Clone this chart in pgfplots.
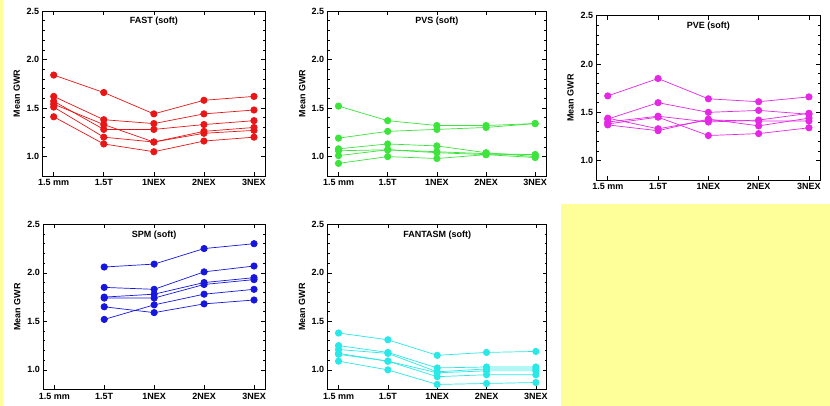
\documentclass[border=0pt]{standalone}
\usepackage{fontspec}
\setmainfont{Liberation Sans}
\usepackage{pgfplots}
\pgfplotsset{compat=1.18}
\definecolor{cR}{RGB}{232,22,22}
\definecolor{cG}{RGB}{60,228,60}
\definecolor{cM}{RGB}{228,40,228}
\definecolor{cB}{RGB}{22,22,222}
\definecolor{cC}{RGB}{40,232,232}
\definecolor{bgY}{RGB}{255,255,153}
\pgfplotsset{
  panel/.style={
    scale only axis,
    xmin=-0.22, xmax=4.22, ymin=0.8, ymax=2.5,
    xtick={0,1,2,3,4},
    xticklabels={1.5 mm,1.5T,1NEX,2NEX,3NEX},
    ytick={1.0,1.5,2.0,2.5},
    minor y tick num=4,
    tick align=inside,
    major tick length=4pt, minor tick length=2pt,
    tick style={black, line width=0.6pt},
    axis line style={black, line width=0.7pt},
    ticklabel style={font=\bfseries\fontsize{9}{10}\selectfont},
    /pgf/number format/assume math mode=true,
    yticklabel style={/pgf/number format/fixed, /pgf/number format/fixed zerofill, /pgf/number format/precision=1},
    ylabel={Mean GWR},
    ylabel style={at={(axis description cs:-0.117,0.5)}, anchor=center, font=\bfseries\fontsize{9}{10}\selectfont},
    title style={at={(axis description cs:0.5,0.9)}, anchor=center, font=\bfseries\fontsize{9}{10}\selectfont},
  },
  s/.style={color=#1, line width=0.7pt, mark=*, mark size=3.2pt, mark options={fill=#1, draw=#1, solid}},
}
\begin{document}
\begin{tikzpicture}
\useasboundingbox (0pt,0pt) rectangle (830pt,406pt);
\fill[white] (0pt,0pt) rectangle (830pt,406pt);
\fill[bgY] (0pt,0pt) rectangle (3pt,406pt);
\fill[bgY] (561pt,0pt) rectangle (830pt,202pt);

% FAST
\begin{axis}[panel, at={(42.7pt,230pt)}, anchor=south west, width=222.3pt, height=165pt, title={FAST (soft)}]
\addplot[s=cR] coordinates {(0,1.84) (1,1.66) (2,1.44) (3,1.58) (4,1.62)};
\addplot[s=cR] coordinates {(0,1.62) (1,1.38) (2,1.34) (3,1.44) (4,1.48)};
\addplot[s=cR] coordinates {(0,1.57) (1,1.28) (2,1.28) (3,1.33) (4,1.37)};
\addplot[s=cR] coordinates {(0,1.54) (1,1.33) (2,1.15) (3,1.26) (4,1.30)};
\addplot[s=cR] coordinates {(0,1.51) (1,1.20) (2,1.15) (3,1.24) (4,1.27)};
\addplot[s=cR] coordinates {(0,1.41) (1,1.13) (2,1.05) (3,1.16) (4,1.20)};
\end{axis}

% PVS
\begin{axis}[panel, at={(327.7pt,230pt)}, anchor=south west, width=218.3pt, height=165pt, title={PVS (soft)}]
\addplot[s=cG] coordinates {(0,1.52) (1,1.37) (2,1.32) (3,1.32) (4,1.34)};
\addplot[s=cG] coordinates {(0,1.19) (1,1.26) (2,1.28) (3,1.30) (4,1.34)};
\addplot[s=cG] coordinates {(0,1.08) (1,1.13) (2,1.11) (3,1.04) (4,1.00)};
\addplot[s=cG] coordinates {(0,1.06) (1,1.07) (2,1.05) (3,1.03) (4,1.02)};
\addplot[s=cG] coordinates {(0,1.01) (1,1.07) (2,1.04) (3,1.02) (4,1.02)};
\addplot[s=cG] coordinates {(0,0.93) (1,1.00) (2,0.98) (3,1.02) (4,0.99)};
\end{axis}

% PVE
\begin{axis}[panel, at={(596.7pt,226pt)}, anchor=south west, width=223.3pt, height=164.3pt, title={PVE (soft)}]
\addplot[s=cM] coordinates {(0,1.67) (1,1.85) (2,1.64) (3,1.61) (4,1.66)};
\addplot[s=cM] coordinates {(0,1.43) (1,1.60) (2,1.50) (3,1.52) (4,1.48)};
\addplot[s=cM] coordinates {(0,1.40) (1,1.46) (2,1.40) (3,1.42) (4,1.49)};
\addplot[s=cM] coordinates {(0,1.38) (1,1.45) (2,1.26) (3,1.28) (4,1.34)};
\addplot[s=cM] coordinates {(0,1.44) (1,1.33) (2,1.42) (3,1.41) (4,1.41)};
\addplot[s=cM] coordinates {(0,1.37) (1,1.31) (2,1.43) (3,1.36) (4,1.44)};
\end{axis}

% SPM
\begin{axis}[panel, at={(43.3pt,16.7pt)}, anchor=south west, width=221.7pt, height=165pt, title={SPM (soft)}]
\addplot[s=cB] coordinates {(1,2.06) (2,2.09) (3,2.25) (4,2.30)};
\addplot[s=cB] coordinates {(1,1.85) (2,1.83) (3,2.01) (4,2.07)};
\addplot[s=cB] coordinates {(1,1.75) (2,1.78) (3,1.90) (4,1.95)};
\addplot[s=cB] coordinates {(1,1.74) (2,1.74) (3,1.88) (4,1.93)};
\addplot[s=cB] coordinates {(1,1.65) (2,1.59) (3,1.68) (4,1.72)};
\addplot[s=cB] coordinates {(1,1.52) (2,1.67) (3,1.78) (4,1.83)};
\end{axis}

% FANTASM
\begin{axis}[panel, at={(327.7pt,16.7pt)}, anchor=south west, width=219pt, height=165pt, title={FANTASM (soft)}]
\addplot[s=cC] coordinates {(0,1.38) (1,1.31) (2,1.15) (3,1.18) (4,1.19)};
\addplot[s=cC] coordinates {(0,1.25) (1,1.18) (2,1.02) (3,1.03) (4,1.03)};
\addplot[s=cC] coordinates {(0,1.21) (1,1.17) (2,0.98) (3,1.01) (4,1.01)};
\addplot[s=cC] coordinates {(0,1.17) (1,1.09) (2,0.97) (3,0.99) (4,0.99)};
\addplot[s=cC] coordinates {(0,1.16) (1,1.09) (2,0.93) (3,0.95) (4,0.95)};
\addplot[s=cC] coordinates {(0,1.09) (1,1.00) (2,0.85) (3,0.86) (4,0.87)};
\end{axis}
\end{tikzpicture}
\end{document}
